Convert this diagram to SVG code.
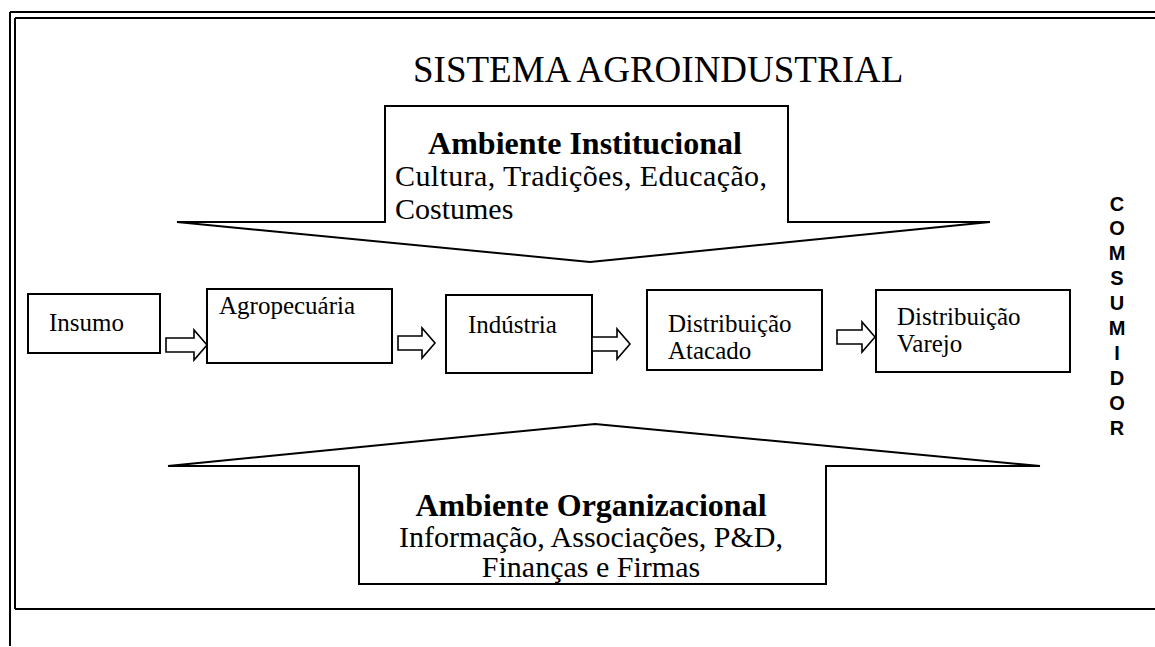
<svg xmlns="http://www.w3.org/2000/svg" width="1155" height="647" viewBox="0 0 1155 647">
<style>
.ln{fill:none;stroke:#000;stroke-width:2}
.box{fill:#fff;stroke:#000;stroke-width:2}
.arr{fill:#fff;stroke:#000;stroke-width:1.6;stroke-linejoin:miter}
.t{font-family:"Liberation Serif","Times New Roman",serif;fill:#000}
.lbl{font-size:25px}
.body{font-size:30px}
.bold{font-size:32px;font-weight:bold}
.title{font-size:37px}
.cons{font-family:"Liberation Sans",Arial,sans-serif;font-weight:bold;font-size:20px;fill:#000;text-anchor:middle}
</style>
<g id="frame">
<path class="ln" d="M10,12 H1155 M15,18 H1155 M10,12 V646 M15,18 V609 M15,609 H1155"/>
</g>
<text class="t title" x="413" y="82">SISTEMA AGROINDUSTRIAL</text>
<g id="ambiente-institucional">
<path class="ln" d="M177,222 H385 V106 H788 V222 H990 L590,262 Z"/>
<text class="t bold" x="585" y="154" text-anchor="middle">Ambiente Institucional</text>
<text class="t body" x="395" y="186" textLength="372" lengthAdjust="spacing">Cultura,  Tradições,  Educação,</text>
<text class="t body" x="395" y="219">Costumes</text>
</g>
<g id="ambiente-organizacional">
<path class="ln" d="M168,466 H359 V584 H826 V466 H1040 L595,424 Z"/>
<text class="t bold" x="591" y="516" text-anchor="middle">Ambiente Organizacional</text>
<text class="t body" x="591" y="547" text-anchor="middle">Informação, Associações, P&amp;D,</text>
<text class="t body" x="591" y="577" text-anchor="middle">Finanças e Firmas</text>
</g>
<g id="insumo">
<rect class="box" x="28" y="294" width="132" height="59"/>
<text class="t lbl" x="49" y="331">Insumo</text>
</g>
<g id="agropecuaria">
<rect class="box" x="207" y="289" width="185" height="74"/>
<text class="t lbl" x="219" y="314">Agropecuária</text>
</g>
<g id="industria">
<rect class="box" x="446" y="295" width="146" height="78"/>
<text class="t lbl" x="468" y="333">Indústria</text>
</g>
<g id="distribuicao-atacado">
<rect class="box" x="647" y="290" width="175" height="80"/>
<text class="t lbl" x="668" y="332">Distribuição</text>
<text class="t lbl" x="668" y="359">Atacado</text>
</g>
<g id="distribuicao-varejo">
<rect class="box" x="876" y="290" width="194" height="82"/>
<text class="t lbl" x="897" y="325">Distribuição</text>
<text class="t lbl" x="897" y="352">Varejo</text>
</g>
<g id="consumidor">
<text class="cons" x="1117" y="210.5">C</text>
<text class="cons" x="1117" y="235.4">O</text>
<text class="cons" x="1117" y="260.3">M</text>
<text class="cons" x="1117" y="285.2">S</text>
<text class="cons" x="1117" y="310.1">U</text>
<text class="cons" x="1117" y="335">M</text>
<text class="cons" x="1117" y="359.9">I</text>
<text class="cons" x="1117" y="384.8">D</text>
<text class="cons" x="1117" y="409.7">O</text>
<text class="cons" x="1117" y="434.6">R</text>
</g>
<g id="connectors">
<path class="arr" d="M166,338 H194 V330 L207,345 L194,360 V352 H166 Z"/>
<path class="arr" d="M398,336 H422 V328 L435,343 L422,358 V350 H398 Z"/>
<path class="arr" d="M592,337 H617 V329 L630,344 L617,359 V351 H592 Z"/>
<path class="arr" d="M837,330 H862 V322 L875,337 L862,352 V344 H837 Z"/>
</g>
</svg>
